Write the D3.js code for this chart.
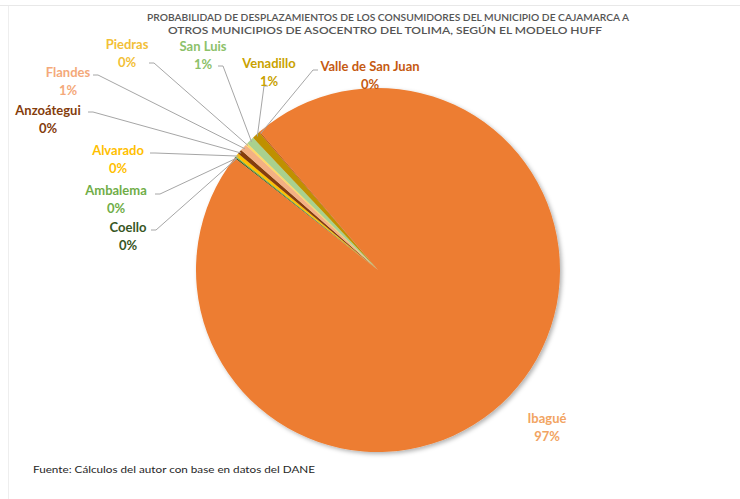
<!DOCTYPE html>
<html lang="es">
<head>
<meta charset="UTF-8">
<title>Probabilidad de desplazamientos - Modelo Huff</title>
<script src="https://cdnjs.cloudflare.com/ajax/libs/d3/7.8.5/d3.min.js"></script>
<style>
  body { margin: 0; background: #fff; }
  svg { display: block; font-family: Lato, "Open Sans", sans-serif; }
</style>
</head>
<body>
<div id="chart"></div>
<script>
// data, in the order the slices run clockwise
var municipios = ["Coello", "Ambalema", "Alvarado", "Anzoátegui", "Flandes",
                  "Piedras", "San Luis", "Venadillo", "Valle de San Juan", "Ibagué"];
var probabilidad = [0.1, 0.1, 0.3, 0.4, 0.6, 0.2, 0.7, 0.7, 0.1, 96.8];
var sliceColors = ["#375623", "#70ad47", "#ffc000", "#843c0c", "#f4b183",
                   "#ffd966", "#a9d18e", "#bf9000", "#c55a11", "#ed7d31"];
var textColors = ["#375623", "#70ad47", "#ffc000", "#843c0c", "#f4a97a",
                  "#f2c037", "#8cc16a", "#c9a200", "#c55a11", "#f2a462"];
var titleLines = ["PROBABILIDAD DE DESPLAZAMIENTOS DE LOS CONSUMIDORES DEL MUNICIPIO DE CAJAMARCA A",
                  "OTROS MUNICIPIOS DE ASOCENTRO DEL TOLIMA, SEGÚN EL MODELO HUFF"];
var fuente = "Fuente: Cálculos del autor con base en datos del DANE";

// where excel left the data labels (label centre, leader start)
var labelPos = [
  {x: 128, y: 228, lx: 151, ly: 230},
  {x: 116, y: 191, lx: 155, ly: 194},
  {x: 118, y: 151, lx: 150, ly: 153},
  {x: 48,  y: 111, lx: 88,  ly: 112},
  {x: 68,  y: 73,  lx: 93,  ly: 75},
  {x: 127, y: 45,  lx: 149, ly: 63},
  {x: 203, y: 47,  lx: 218, ly: 66},
  {x: 269, y: 64,  lx: 264, ly: 86},
  {x: 370, y: 67,  lx: 318, ly: 70},
  {x: 547, y: 419, lx: null, ly: null}
];

var width = 740, height = 499;
var cx = 378, cy = 270, radius = 182;
var startDeg = -52;

var svg = d3.select("#chart").append("svg")
    .attr("width", width)
    .attr("height", height);

var defs = svg.append("defs");
var shadow = defs.append("filter").attr("id", "shadow")
    .attr("x", "-10%").attr("y", "-10%").attr("width", "130%").attr("height", "130%");
shadow.append("feDropShadow")
    .attr("dx", 2).attr("dy", 2).attr("stdDeviation", 2)
    .attr("flood-color", "#000").attr("flood-opacity", 0.3);

// faint frame of the original screenshot
svg.append("line").attr("x1", 0).attr("x2", width).attr("y1", 5.5).attr("y2", 5.5)
    .attr("stroke", "#e8e8e8");
svg.append("line").attr("x1", 8.5).attr("x2", 8.5).attr("y1", 6).attr("y2", height)
    .attr("stroke", "#eeeeee");

// title
svg.selectAll("text.title")
    .data(titleLines)
    .enter().append("text")
    .attr("class", "title")
    .attr("x", function (d, i) { return i == 0 ? 388 : 385; })
    .attr("y", function (d, i) { return 21 + i * 13; })
    .attr("text-anchor", "middle")
    .attr("textLength", function (d, i) { return i == 0 ? 482 : 434; })
    .attr("lengthAdjust", "spacingAndGlyphs")
    .style("font-size", "9px")
    .style("font-weight", "600")
    .style("fill", "#555555")
    .text(function (d) { return d; });

var data = municipios.map(function (m, i) {
    return {name: m, value: probabilidad[i], i: i};
});

var pie = d3.pie()
    .sort(null)
    .value(function (d) { return d.value; })
    .startAngle(startDeg * Math.PI / 180)
    .endAngle((startDeg + 360) * Math.PI / 180);

var arcs = pie(data);

var arc = d3.arc().innerRadius(0).outerRadius(radius);

var g = svg.append("g")
    .attr("transform", "translate(" + cx + "," + cy + ")");

g.append("g")
    .attr("filter", "url(#shadow)")
    .selectAll("path")
    .data(arcs)
    .enter().append("path")
    .attr("d", arc)
    .attr("fill", function (d) { return sliceColors[d.data.i]; });

// leader lines
function edgePoint(d) {
    var a = (d.startAngle + d.endAngle) / 2;
    return [cx + Math.sin(a) * (radius - 2), cy - Math.cos(a) * (radius - 2)];
}

svg.append("g").selectAll("path")
    .data(arcs.filter(function (d) { return labelPos[d.data.i].lx !== null; }))
    .enter().append("path")
    .attr("fill", "none")
    .attr("stroke", "#a6a6a6")
    .attr("stroke-width", 1)
    .attr("d", function (d) {
        var p = labelPos[d.data.i];
        var e = edgePoint(d);
        if (d.data.name == "Venadillo") {
            return "M" + (p.lx + 4) + "," + p.ly + "L" + p.lx + "," + p.ly +
                   "L" + e[0] + "," + e[1];
        }
        return "M" + p.lx + "," + p.ly + "L" + (p.lx + 5 * Math.sign(e[0] - p.lx)) + "," + p.ly +
               "L" + e[0] + "," + e[1];
    });

// data labels
var labels = svg.append("g").selectAll("g")
    .data(arcs)
    .enter().append("g")
    .attr("transform", function (d) {
        var p = labelPos[d.data.i];
        return "translate(" + p.x + "," + p.y + ")";
    })
    .style("fill", function (d) { return textColors[d.data.i]; })
    .style("font-weight", "bold")
    .style("font-size", "13px")
    .attr("text-anchor", "middle");

labels.append("text")
    .attr("y", 4)
    .text(function (d) { return d.data.name; });

labels.append("text")
    .attr("y", 22)
    .text(function (d) { return Math.round(d.data.value) + "%"; });

// source
svg.append("text")
    .attr("x", 33)
    .attr("y", 473)
    .attr("textLength", 282)
    .attr("lengthAdjust", "spacingAndGlyphs")
    .style("font-size", "10px")
    .style("fill", "#262626")
    .text(fuente);
</script>
</body>
</html>
